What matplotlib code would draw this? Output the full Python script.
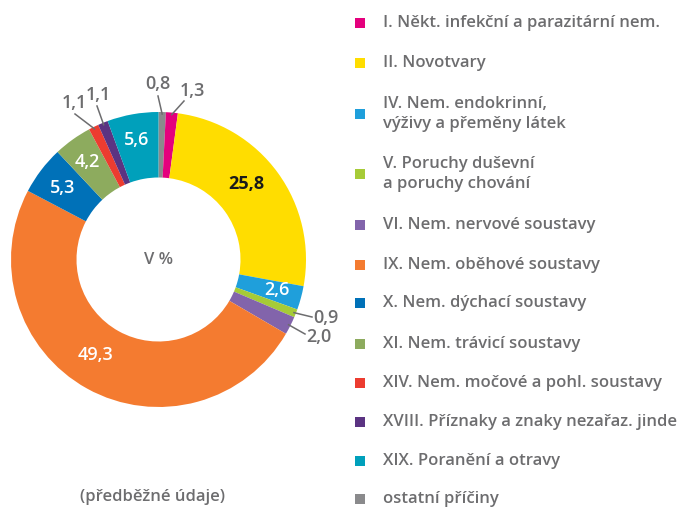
import numpy as np
from matplotlib import pyplot as plt

W, H = 679, 508

categories = ["ostatní příčiny", "I. Někt. infekční a parazitární nem.", "II. Novotvary",
              "IV. Nem. endokrinní,\nvýživy a přeměny látek", "V. Poruchy duševní\na poruchy chování",
              "VI. Nem. nervové soustavy", "IX. Nem. oběhové soustavy", "X. Nem. dýchací soustavy",
              "XI. Nem. trávicí soustavy", "XIV. Nem. močové a pohl. soustavy",
              "XVIII. Příznaky a znaky nezařaz. jinde", "XIX. Poranění a otravy"]
values = [0.8, 1.3, 25.8, 2.6, 0.9, 2.0, 49.3, 5.3, 4.2, 1.1, 1.1, 5.6]
colors = ["#8a8a8c", "#e4007d", "#ffdd00", "#1f9fdb", "#a6cb37", "#8264ab", "#f47b30",
          "#0071b8", "#8dab5e", "#ec3c30", "#5b3382", "#00a0bb"]

# legend order (indices into the lists above)
legend_order = [1, 2, 3, 4, 5, 6, 7, 8, 9, 10, 11, 0]
legend_y = [23, 63, 114, 174, 225, 265, 303, 344, 383, 422, 461, 499]

# label layout: (x, y) in image pixels, style
inside = {2: (246, 184, "#1a1a1a"), 3: (277, 290, "white"), 6: (95, 355, "white"),
          7: (63, 188, "white"), 8: (87, 162, "white"), 11: (137, 140, "white")}
outside = {0: ((158, 96), (158, 84), "center"), 1: ((184, 101), (192, 91), "center"),
           9: ((75, 114), (74, 103), "center"), 10: ((97, 106), (98, 95), "center"),
           4: ((312, 317), (313, 318), "left"), 5: ((305, 334), (306, 337), "left")}

cx, cy, R, ring = 158.5, 259.5, 147.5, 65.5
txt_gray = "#6d6d6f"
font = dict(family=["Open Sans", "DejaVu Sans"], fontweight="semibold")


def Y(y):
    return H - y


fig = plt.figure(figsize=(W / 100, H / 100), dpi=100)
ax = fig.add_axes([0, 0, 1, 1])

ax.pie(values, colors=colors, startangle=90, counterclock=False, radius=R,
       center=(cx, Y(cy)), wedgeprops=dict(width=ring, edgecolor="none"))
ax.set_xlim(0, W)
ax.set_ylim(0, H)
ax.set_aspect("equal")
ax.axis("off")

fmt = lambda v: f"{v:.1f}".replace(".", ",")

for i, (x, y, c) in inside.items():
    ax.text(x, Y(y), fmt(values[i]), color=c, fontsize=13, ha="center", va="center",
            **(dict(font, fontweight="bold") if i == 2 else font))

cum = np.cumsum([0] + values)
for i, (end, pos, ha) in outside.items():
    mid = np.deg2rad((cum[i] + values[i] / 2) / 100 * 360)
    sx, sy = cx + (R - 2) * np.sin(mid), cy - (R - 2) * np.cos(mid)
    ax.plot([sx, end[0]], [Y(sy), Y(end[1])], color=txt_gray, lw=1.1)
    ax.text(pos[0], Y(pos[1]), fmt(values[i]), color=txt_gray, fontsize=13,
            ha=ha, va="center", **font)

ax.text(cx, Y(cy), "V %", color=txt_gray, fontsize=12, ha="center", va="center", **font)
ax.text(152, Y(497), "(předběžné údaje)", color=txt_gray, fontsize=12, ha="center",
        va="center", **font)

for i, y in zip(legend_order, legend_y):
    ax.add_patch(plt.Rectangle((355, Y(y) - 5), 10, 10, color=colors[i], lw=0))
    ax.text(383, Y(y), categories[i], color=txt_gray, fontsize=12, ha="left",
            va="center", linespacing=1.3, **font)

plt.savefig("out.png", dpi=100)
